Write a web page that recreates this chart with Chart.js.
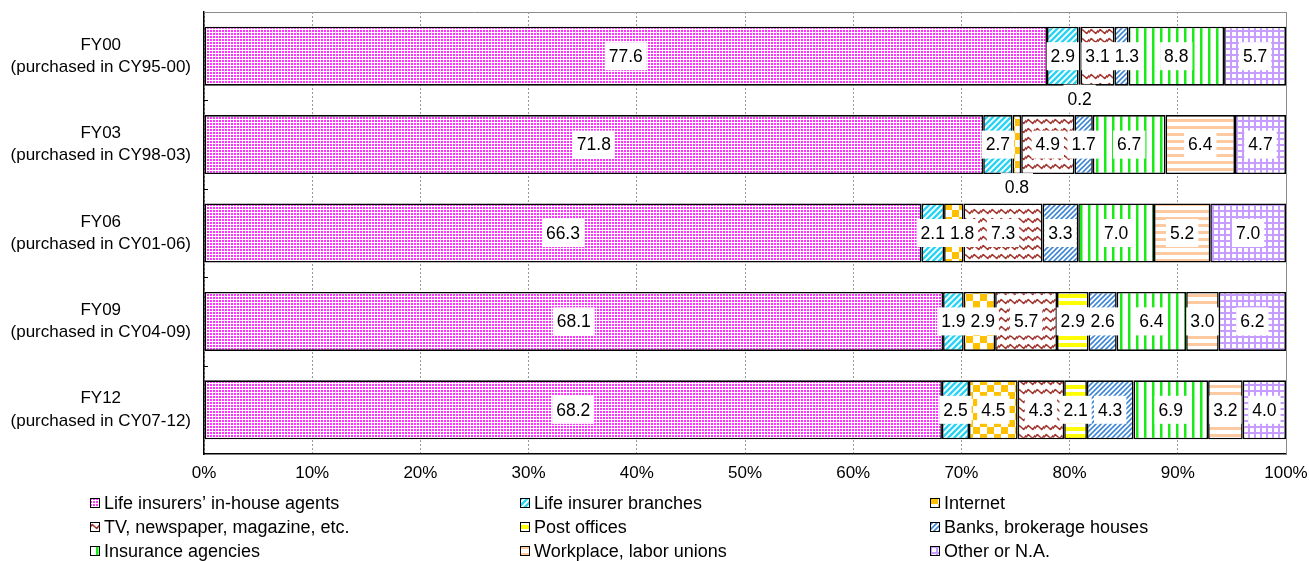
<!DOCTYPE html>
<html>
<head>
<meta charset="utf-8">
<script src="https://cdn.jsdelivr.net/npm/chart.js@4/dist/chart.umd.min.js"></script>
<style>
  html, body { margin: 0; padding: 0; background: #fff; }
  #wrap { width: 1309px; height: 561px; position: relative; }
</style>
</head>
<body>
<div id="wrap"><canvas id="chart" width="1309" height="561"></canvas></div>
<script>
// Survey waves (y categories), two-line labels
const surveyWaves = [
  ['FY00', '(purchased in CY95-00)'],
  ['FY03', '(purchased in CY98-03)'],
  ['FY06', '(purchased in CY01-06)'],
  ['FY09', '(purchased in CY04-09)'],
  ['FY12', '(purchased in CY07-12)']
];

// Purchase channels, in stacking order
const channelNames = [
  'Life insurers\u2019 in-house agents',
  'Life insurer branches',
  'Internet',
  'TV, newspaper, magazine, etc.',
  'Post offices',
  'Banks, brokerage houses',
  'Insurance agencies',
  'Workplace, labor unions',
  'Other or N.A.'
];

// Shares (%) per survey wave; null = channel not reported
const inHouseAgents     = [77.6, 71.8, 66.3, 68.1, 68.2];
const insurerBranches   = [2.9, 2.7, 2.1, 1.9, 2.5];
const internetSales     = [0.2, 0.8, 1.8, 2.9, 4.5];
const massMedia         = [3.1, 4.9, 7.3, 5.7, 4.3];
const postOffices       = [null, null, null, 2.9, 2.1];
const banksBrokerages   = [1.3, 1.7, 3.3, 2.6, 4.3];
const insuranceAgencies = [8.8, 6.7, 7.0, 6.4, 6.9];
const workplaceUnions   = [null, 6.4, 5.2, 3.0, 3.2];
const otherOrNA         = [5.7, 4.7, 7.0, 6.2, 4.0];

// Axis tick labels
const xTickLabels = ['0%', '10%', '20%', '30%', '40%', '50%', '60%', '70%', '80%', '90%', '100%'];

const seriesValues = [
  inHouseAgents, insurerBranches, internetSales, massMedia, postOffices,
  banksBrokerages, insuranceAgencies, workplaceUnions, otherOrNA
];

const FONT = '"Liberation Sans", Arial, Helvetica, sans-serif';

// ---- fill patterns -------------------------------------------------------
function tile(w, h, paint) {
  const c = document.createElement('canvas');
  c.width = w; c.height = h;
  const g = c.getContext('2d');
  g.fillStyle = '#fff';
  g.fillRect(0, 0, w, h);
  paint(g, w, h);
  return c;
}
function diagonal(color, size, width) {
  return tile(size, size, (g, w, h) => {
    g.strokeStyle = color;
    g.lineWidth = width;
    g.beginPath();
    g.moveTo(-1, h + 1); g.lineTo(w + 1, -1);
    g.moveTo(-1, 1); g.lineTo(1, -1);
    g.moveTo(w - 1, h + 1); g.lineTo(w + 1, h - 1);
    g.stroke();
  });
}
const tiles = [
  // pink dots
  tile(3, 3, g => { g.fillStyle = '#ff33ff'; g.fillRect(0, 0, 2, 2); }),
  // cyan diagonal stripes
  diagonal('#29d3f3', 6, 2.4),
  // gold checkerboard
  tile(14, 14, g => { g.fillStyle = '#ffc000'; g.fillRect(0, 0, 7, 7); g.fillRect(7, 7, 7, 7); }),
  // brown waves
  tile(9, 9, g => {
    g.strokeStyle = '#a3352f'; g.lineWidth = 1.6; g.lineJoin = 'round';
    g.beginPath(); g.moveTo(-1, 6.5); g.lineTo(2.25, 2.5); g.lineTo(6.75, 6.5); g.lineTo(10, 2.5); g.stroke();
  }),
  // yellow horizontal bands
  tile(4, 7, g => { g.fillStyle = '#ffff00'; g.fillRect(0, 0, 4, 4); }),
  // blue diagonal stripes
  diagonal('#3f86d6', 5, 1.6),
  // green vertical lines
  tile(8, 4, g => { g.fillStyle = '#19ec19'; g.fillRect(0, 0, 2.5, 4); }),
  // peach horizontal lines
  tile(4, 7, g => { g.fillStyle = '#fcc9a0'; g.fillRect(0, 0, 4, 3); }),
  // lavender grid
  tile(6, 6, g => { g.fillStyle = '#c79cff'; g.fillRect(0, 0, 2, 6); g.fillRect(0, 0, 6, 2); })
];
const patternCtx = document.createElement('canvas').getContext('2d');
const fills = tiles.map(t => patternCtx.createPattern(t, 'repeat'));

// Each wave is drawn as 100% stacked: segment length = value / wave total
const waveTotals = surveyWaves.map((_, j) =>
  seriesValues.reduce((s, arr) => s + (arr[j] == null ? 0 : arr[j]), 0));

const datasets = channelNames.map((name, i) => ({
  label: name,
  values: seriesValues[i],
  data: seriesValues[i].map((v, j) => v == null ? null : v / waveTotals[j] * 100),
  backgroundColor: fills[i],
  borderColor: '#000',
  borderWidth: 1.6,
  borderSkipped: false,
  categoryPercentage: 0.667,
  barPercentage: 1
}));

// ---- frame, value labels and legend --------------------------------------
const LABEL_PAD = 4;
const decorations = {
  id: 'decorations',
  afterDatasetsDraw(chart) {
    const ctx = chart.ctx;
    const a = chart.chartArea;
    ctx.save();
    // grey top and right frame
    ctx.strokeStyle = '#8c8c8c';
    ctx.lineWidth = 1;
    ctx.beginPath();
    ctx.moveTo(a.left, a.top + 0.5); ctx.lineTo(a.right + 0.5, a.top + 0.5);
    ctx.lineTo(a.right + 0.5, a.bottom);
    ctx.stroke();
    // small inward ticks on the category axis
    const step = (a.bottom - a.top) / surveyWaves.length;
    ctx.strokeStyle = '#000';
    ctx.beginPath();
    for (let k = 1; k < surveyWaves.length; k++) {
      const yy = Math.round(a.top + k * step) + 0.5;
      ctx.moveTo(a.left, yy); ctx.lineTo(a.left + 4, yy);
    }
    ctx.stroke();

    // value labels on white boxes; inside labels are nudged right so
    // a label's box never hides the previous number in the same row
    ctx.font = '17.5px ' + FONT;
    ctx.textAlign = 'center';
    ctx.textBaseline = 'middle';
    const rowRight = surveyWaves.map(() => -Infinity);
    chart.data.datasets.forEach((ds, i) => {
      const meta = chart.getDatasetMeta(i);
      meta.data.forEach((el, j) => {
        const v = ds.values[j];
        if (v == null) return;
        const txt = v.toFixed(1);
        const w = ctx.measureText(txt).width;
        let cx = (el.x + el.base) / 2;
        let cy = el.y;
        if (v < 1) {
          cy = el.y + el.height / 2 + 13;
        } else {
          const minLeft = rowRight[j] + LABEL_PAD + 1;
          if (cx - w / 2 < minLeft) cx = minLeft + w / 2;
          rowRight[j] = cx + w / 2;
        }
        ctx.fillStyle = '#fff';
        ctx.fillRect(cx - w / 2 - LABEL_PAD, cy - 14, w + 2 * LABEL_PAD, 28);
        ctx.fillStyle = '#000';
        ctx.fillText(txt, cx, cy + 1);
      });
    });
    ctx.restore();
  },
  afterDraw(chart) {
    const ctx = chart.ctx;
    const colX = [90, 520, 930];
    const rowY = [503, 527, 551];
    ctx.save();
    ctx.font = '18px ' + FONT;
    ctx.textAlign = 'left';
    ctx.textBaseline = 'middle';
    chart.data.datasets.forEach((ds, i) => {
      const x = colX[i % 3];
      const y = rowY[Math.floor(i / 3)];
      ctx.fillStyle = ds.backgroundColor;
      ctx.fillRect(x, y - 5, 10, 10);
      ctx.strokeStyle = '#000';
      ctx.lineWidth = 1;
      ctx.strokeRect(x + 0.5, y - 4.5, 9, 9);
      ctx.fillStyle = '#000';
      ctx.fillText(ds.label, x + 14, y + 1);
    });
    ctx.restore();
  }
};

Chart.defaults.font.family = FONT;
Chart.defaults.font.size = 17;
Chart.defaults.color = '#000';

new Chart(document.getElementById('chart'), {
  type: 'bar',
  data: { labels: surveyWaves, datasets },
  options: {
    indexAxis: 'y',
    responsive: false,
    animation: false,
    layout: { padding: { top: 12, right: 23, left: 0, bottom: 0 } },
    plugins: { legend: { display: false }, tooltip: { enabled: false } },
    scales: {
      x: {
        stacked: true,
        min: 0,
        max: 100,
        grid: { color: '#9a9a9a', lineWidth: 1, drawTicks: false },
        border: { display: true, color: '#000', width: 1.5, dash: [2, 2] },
        ticks: {
          stepSize: 10,
          padding: 9,
          maxRotation: 0,
          font: { size: 17 },
          callback: (v) => xTickLabels[Math.round(v / 10)]
        },
        afterFit: (s) => {
          s.height = 107;
          s.paddingLeft = 0;
          s.paddingRight = 0;
        }
      },
      y: {
        stacked: true,
        grid: { display: false, drawTicks: false },
        border: { display: true, color: '#000', width: 1.5 },
        ticks: {
          crossAlign: 'center',
          padding: 13,
          font: { size: 17, lineHeight: 1.3 }
        },
        afterFit: (s) => {
          s.width = 204;
          s.paddingTop = 0;
          s.paddingBottom = 0;
        }
      }
    }
  },
  plugins: [decorations]
});
</script>
</body>
</html>
